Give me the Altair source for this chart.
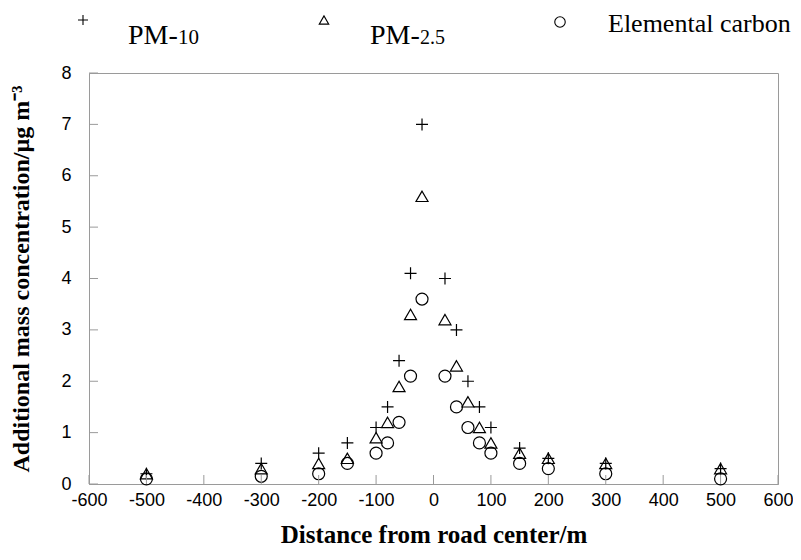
import altair as alt
import pandas as pd

# ---------------- data ----------------
distance = [-500, -300, -200, -150, -100, -80, -60, -40, -20, 20, 40, 60, 80, 100, 150, 200, 300, 500]
pm10 = [0.2, 0.4, 0.6, 0.8, 1.1, 1.5, 2.4, 4.1, 7.0, 4.0, 3.0, 2.0, 1.5, 1.1, 0.7, 0.5, 0.4, 0.3]
pm25 = [0.2, 0.3, 0.4, 0.5, 0.9, 1.2, 1.9, 3.3, 5.6, 3.2, 2.3, 1.6, 1.1, 0.8, 0.6, 0.5, 0.4, 0.3]
ec = [0.1, 0.15, 0.2, 0.4, 0.6, 0.8, 1.2, 2.1, 3.6, 2.1, 1.5, 1.1, 0.8, 0.6, 0.4, 0.3, 0.2, 0.1]
series_names = ["PM-10", "PM-2.5", "Elemental carbon"]
x_ticks = list(range(-600, 601, 100))
y_ticks = list(range(0, 9))
x_title = "Distance from road center/m"
y_title = "Additional mass concentration/\u00b5g m\u207b\u00b3"

# ---------------- layout / style ----------------
W, H = 689, 411
PAD_L, PAD_T, PAD_R, PAD_B = 81, 65, 15, 66
FRAME = "#9a9a9a"
PLUS = "M-1,0L1,0M0,-1L0,1"
shapes = [PLUS, "triangle-up", "circle"]

rows = []
for name, vals in zip(series_names, [pm10, pm25, ec]):
    for d, v in zip(distance, vals):
        rows.append({"distance": d, "value": v, "series": name})
df = pd.DataFrame(rows)

xscale = alt.Scale(domain=[-600, 600], nice=False, zero=False)
yscale = alt.Scale(domain=[0, 8], nice=False)
xaxis = alt.Axis(values=x_ticks, title=x_title, labelPadding=7, titlePadding=13,
                 labelExpr="'' + datum.value", labelOverlap=False, labelFlush=False)
yaxis = alt.Axis(values=y_ticks, title=y_title, labelPadding=18, titlePadding=27,
                 labelExpr="'' + datum.value", labelOverlap=False, labelFlush=False)

points = alt.Chart(df).mark_point(
    filled=False, color="black", strokeWidth=1.2, size=144, opacity=1
).encode(
    x=alt.X("distance:Q", scale=xscale, axis=xaxis),
    y=alt.Y("value:Q", scale=yscale, axis=yaxis),
    shape=alt.Shape("series:N", scale=alt.Scale(domain=series_names, range=shapes),
                    legend=None),
)

xt = alt.Chart(pd.DataFrame({"distance": x_ticks})).mark_tick(
    orient="vertical", size=9, thickness=1, color=FRAME, opacity=1
).encode(x=alt.X("distance:Q", scale=xscale, axis=xaxis), y=alt.value(H - 4.5))

yt = alt.Chart(pd.DataFrame({"value": y_ticks})).mark_tick(
    orient="horizontal", size=9, thickness=1, color=FRAME, opacity=1
).encode(y=alt.Y("value:Q", scale=yscale, axis=yaxis), x=alt.value(4.5))

# ---------------- manual legend (top row) ----------------
one = alt.Data(values=[{}])
SERIF = "Liberation Serif"
legend_layers = []
sym_pos = [(-6, -53, 100), (235, -53, 90), (471, -51, 110)]
for shp, (sx, sy, ss) in zip(shapes, sym_pos):
    legend_layers.append(
        alt.Chart(one).mark_point(shape=shp, filled=False, color="black",
                                  strokeWidth=1.1, size=ss, opacity=1)
        .encode(x=alt.value(sx), y=alt.value(sy))
    )
text_items = [
    ("PM-", 39, -29, 28),
    ("10", 89, -29, 21),
    ("PM-", 281, -29, 28),
    ("2.5", 331, -29, 20),
    ("Elemental carbon", 519, -41, 26),
]
for txt, tx, ty, fs in text_items:
    legend_layers.append(
        alt.Chart(one).mark_text(text=txt, align="left", baseline="alphabetic",
                                 font=SERIF, fontSize=fs, color="black")
        .encode(x=alt.value(tx), y=alt.value(ty))
    )

chart = alt.layer(points, xt, yt, *legend_layers).properties(
    width=W, height=H,
    autosize=alt.AutoSizeParams(type="none"),
    padding={"left": PAD_L, "top": PAD_T, "right": PAD_R, "bottom": PAD_B},
).configure_view(
    stroke=FRAME, strokeWidth=1
).configure_axis(
    domain=True, domainColor=FRAME, domainWidth=1,
    ticks=False, tickSize=0, grid=False,
    labelFont="Liberation Sans", labelFontSize=18, labelColor="black",
    titleFont=SERIF, titleFontWeight="bold", titleFontSize=24, titleColor="black",
).configure_axisX(titleFontSize=25)

chart.save("out.html", embed_options={"renderer": "svg", "actions": False})
